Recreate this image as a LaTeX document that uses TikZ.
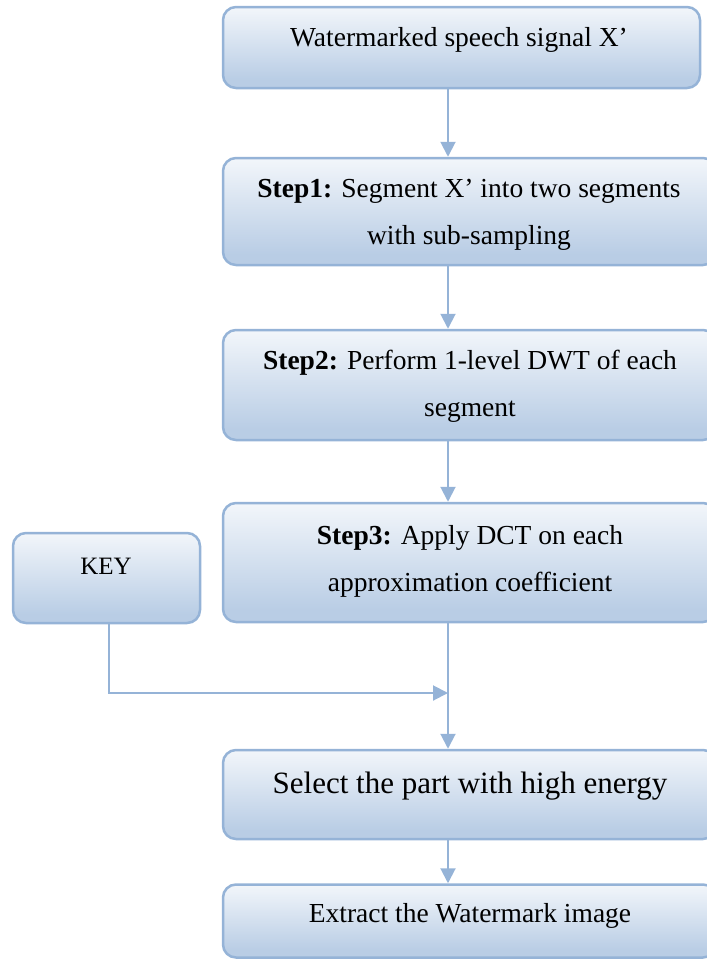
\documentclass[tikz,border=0pt]{standalone}
\usepackage{fontspec}
\setmainfont{Liberation Serif}
\usetikzlibrary{arrows.meta}
\definecolor{boxblue}{RGB}{185,205,229}
\definecolor{edgeblue}{RGB}{149,179,215}
\pgfdeclareverticalshading{boxshade}{100bp}{color(0bp)=(boxblue); color(30bp)=(boxblue); color(85bp)=(white); color(100bp)=(white)}
\tikzset{
  box/.style={draw=edgeblue, line width=2.5pt, rounded corners=13pt, shading=boxshade, inner sep=0pt},
  txt/.style={align=center, inner sep=0pt, font=\fontsize{27.5}{47}\selectfont},
  arr/.style={draw=edgeblue, line width=2pt, -{Triangle[length=15pt,width=15pt]}},
  conn/.style={draw=edgeblue, line width=2pt}
}
\begin{document}
\begin{tikzpicture}[x=1pt,y=-1pt]
\useasboundingbox (0,0) rectangle (707,959);
\clip (0,0) rectangle (707,959);
% boxes
\node[box, minimum width=477pt, minimum height=81pt] (b1) at (461.5,47.5) {};
\node[box, minimum width=493pt, minimum height=107pt] (b2) at (469.5,211.5) {};
\node[box, minimum width=493pt, minimum height=110pt] (b3) at (469.5,385) {};
\node[box, minimum width=493pt, minimum height=119pt] (b4) at (469.5,562.5) {};
\node[box, minimum width=493pt, minimum height=89pt] (b5) at (469.5,794.5) {};
\node[box, minimum width=493pt, minimum height=73pt] (b6) at (469.5,921) {};
\node[box, minimum width=187pt, minimum height=90pt] (key) at (106.5,578) {};
% texts
\node[txt] (t1) at (459,40) {Watermarked speech signal X’};
\node[txt] (t2) at (469,215) {\textbf{Step1:} Segment X’ into two segments\\with sub-sampling};
\node[txt] (t3) at (470,386) {\textbf{Step2:} Perform 1-level DWT of each\\segment};
\node[txt] (t4) at (470,561) {\textbf{Step3:} Apply DCT on each\\approximation coefficient};
\node[txt, font=\fontsize{31}{36}\selectfont] (t5) at (470,786) {Select the part with high energy};
\node[txt] (t6) at (470,916) {Extract the Watermark image};
\node[txt, font=\fontsize{25}{30}\selectfont] (tk) at (106,566) {KEY};
% connectors
\coordinate (mx) at (448,0);
\coordinate (kx) at (109,0);
\coordinate (j) at (448,693);
\draw[arr] (b1.south -| mx) -- (b2.north -| mx);
\draw[arr] (b2.south -| mx) -- (b3.north -| mx);
\draw[arr] (b3.south -| mx) -- (b4.north -| mx);
\draw[arr] (b4.south -| mx) -- (b5.north -| mx);
\draw[arr] (b5.south -| mx) -- (b6.north -| mx);
\draw[arr] (key.south -| kx) |- (j);
\end{tikzpicture}
\end{document}
